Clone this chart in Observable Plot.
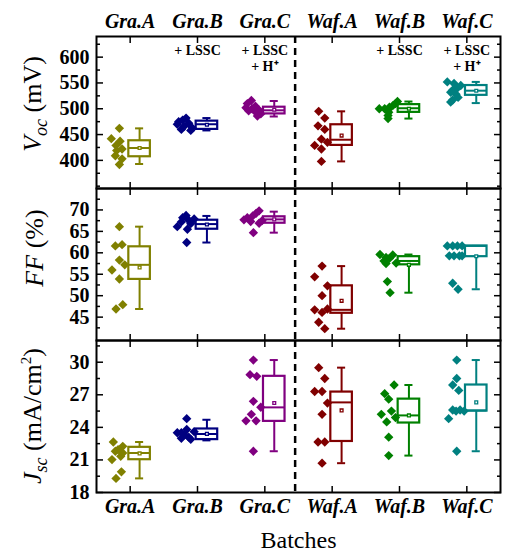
<!DOCTYPE html>
<html>
<head>
<meta charset="utf-8">
<script src="https://cdn.jsdelivr.net/npm/d3@7"></script>
<script src="https://cdn.jsdelivr.net/npm/@observablehq/plot@0.6"></script>
<style>
  body { margin: 0; background: #fff; }
  #chart { width: 507px; height: 557px; position: relative; font-family: 'Liberation Serif', serif; }
  #chart svg { display: block; overflow: visible; }
</style>
</head>
<body>
<div id="chart"></div>
<script>
// ---------- data ----------
const batches = ["Gra.A", "Gra.B", "Gra.C", "Waf.A", "Waf.B", "Waf.C"];
const batchColors = ["#808000", "#000080", "#800080", "#800000", "#008000", "#008080"];
const treatments = ["", "+ LSSC", "+ LSSC\n+ H\u207A", "", "+ LSSC", "+ LSSC\n+ H\u207A"];

// Voc (mV)
const vocPoints = [
  [462, 442, 437, 429, 422, 419, 409, 403, 392],
  [482, 478, 475, 472, 470, 466, 463, 460, 458],
  [516, 510, 505, 502, 500, 498, 496, 494, 490, 486],
  [495, 482, 467, 460, 441, 435, 429, 422, 398],
  [514, 510, 506, 503, 500, 500, 498, 493, 487, 481],
  [552, 549, 545, 540, 536, 532, 528, 522, 517, 513]
];
const vocJitter = [
  [-0.16, -0.28, -0.15, -0.21, -0.12, -0.2, -0.22, -0.12, -0.16],
  [-0.17, -0.22, -0.28, -0.13, -0.3, -0.2, -0.08, -0.24, -0.1],
  [-0.2, -0.26, -0.14, -0.28, -0.19, -0.09, -0.24, -0.14, -0.06, -0.11],
  [-0.2, -0.11, -0.21, -0.11, -0.16, -0.07, -0.26, -0.16, -0.16],
  [-0.03, -0.06, -0.1, -0.15, -0.3, -0.22, -0.17, -0.16, -0.17, -0.17],
  [-0.29, -0.19, -0.09, -0.14, -0.21, -0.24, -0.16, -0.13, -0.21, -0.24]
];
// [min, q1, median, q3, max, mean]
const vocStats = [
  [393, 407, 424, 438, 462, 424],
  [458, 460, 470, 476, 482, 469],
  [485, 490, 497, 503, 515, 498],
  [398, 429, 440, 469, 495, 448],
  [481, 493, 501, 508, 514, 500],
  [511, 526, 535, 545, 552, 535]
];
const vocTicks = [400, 450, 500, 550, 600];
const vocMinor = [350, 375, 425, 475, 525, 575, 625];

// FF (%)
const ffPoints = [
  [66.1, 61.9, 61.6, 58.3, 57.2, 56.0, 53.9, 47.9, 46.9],
  [68.7, 68.2, 67.9, 67.6, 67.2, 66.8, 66.1, 65.5, 62.4],
  [69.8, 69.2, 68.6, 68.2, 67.7, 67.5, 67.3, 66.9, 64.7],
  [56.9, 54.4, 52.3, 50.0, 46.9, 46.7, 46.1, 43.8, 42.3],
  [59.6, 59.5, 58.9, 58.7, 58.1, 57.6, 57.5, 53.3, 50.7],
  [61.6, 61.6, 61.6, 61.6, 59.3, 59.3, 59.3, 59.3, 52.9, 51.5]
];
const ffJitter = [
  [-0.16, -0.12, -0.22, -0.16, -0.08, -0.27, -0.16, -0.11, -0.21],
  [-0.17, -0.22, -0.05, -0.13, -0.24, -0.1, -0.3, -0.15, -0.16],
  [-0.085, -0.13, -0.18, -0.26, -0.31, -0.04, -0.21, -0.085, -0.17],
  [-0.15, -0.26, -0.07, -0.15, -0.07, -0.26, -0.15, -0.2, -0.11],
  [-0.29, -0.1, -0.2, -0.15, -0.23, -0.05, -0.2, -0.18, -0.14],
  [-0.29, -0.21, -0.14, -0.07, -0.26, -0.19, -0.11, -0.07, -0.21, -0.13]
];
const ffStats = [
  [46.9, 53.8, 57.2, 61.4, 66.1, 56.6],
  [62.4, 65.5, 66.7, 67.6, 68.6, 66.6],
  [64.7, 66.9, 67.8, 68.4, 69.6, 67.8],
  [42.3, 45.9, 46.7, 52.3, 56.9, 48.8],
  [50.7, 57.2, 58.1, 59.1, 59.6, 57.2],
  [51.5, 59.1, 61.6, 61.6, 61.6, 59.2]
];
const ffTicks = [45, 50, 55, 60, 65, 70];
const ffMinor = [42.5, 47.5, 52.5, 57.5, 62.5, 67.5, 72.5];

// Jsc (mA/cm2)
const jscPoints = [
  [22.65, 22.25, 21.94, 21.8, 21.64, 21.33, 21.03, 19.9, 19.3],
  [24.8, 23.8, 23.6, 23.5, 23.5, 23.3, 23.1, 23.0, 22.9],
  [30.2, 28.85, 28.7, 26.4, 25.85, 25.2, 24.6, 24.6, 21.8],
  [29.5, 28.5, 27.3, 27.3, 26.24, 25.2, 22.65, 22.65, 20.7],
  [27.9, 27.1, 26.6, 25.5, 25.2, 24.9, 24.5, 23.1, 21.4],
  [30.2, 28.5, 27.9, 27.4, 25.6, 25.5, 25.6, 25.5, 24.8, 21.8]
];
const jscJitter = [
  [-0.25, -0.11, -0.18, -0.22, -0.11, -0.14, -0.27, -0.13, -0.21],
  [-0.16, -0.16, -0.05, -0.3, -0.24, -0.19, -0.13, -0.24, -0.1],
  [-0.17, -0.22, -0.12, -0.17, -0.06, -0.2, -0.28, -0.13, -0.17],
  [-0.2, -0.11, -0.26, -0.15, -0.07, -0.15, -0.21, -0.11, -0.15],
  [-0.08, -0.22, -0.16, -0.12, -0.27, -0.06, -0.19, -0.16, -0.16],
  [-0.15, -0.15, -0.21, -0.12, -0.21, -0.16, -0.1, -0.04, -0.27, -0.15]
];
const jscStats = [
  [19.3, 21.02, 21.64, 22.16, 22.65, 21.6],
  [22.8, 22.87, 23.39, 23.85, 24.7, 23.4],
  [21.8, 24.55, 25.84, 28.7, 30.2, 26.24],
  [20.7, 22.7, 26.3, 27.25, 29.5, 25.56],
  [21.4, 24.4, 25.1, 26.6, 27.9, 25.1],
  [21.8, 25.5, 25.55, 27.9, 30.2, 26.3]
];
const jscTicks = [18, 21, 24, 27, 30];
const jscMinor = [19.5, 22.5, 25.5, 28.5, 31.5];

// ---------- drawing ----------
const FONT = "Liberation Serif";
const catPos = batches.map((_, i) => i + 1);
const boxShift = 0.14, boxHalf = 0.16, capHalf = 0.06, groupSplit = 3.45;

function panel({points, jitter, stats, domain, ticks, minor, height, marginTop, marginBottom, topLabels, bottomLabels, notes}) {
  const pts = points.flatMap((arr, i) => arr.map((v, j) => ({batch: batches[i], x: i + 1 + jitter[i][j], v})));
  const box = stats.map((s, i) => ({batch: batches[i], x: i + 1 + boxShift,
    min: s[0], q1: s[1], med: s[2], q3: s[3], max: s[4], mean: s[5]}));
  const marks = [
    Plot.ruleX(box, {x: "x", y1: "q3", y2: "max", stroke: "batch", strokeWidth: 2}),
    Plot.ruleX(box, {x: "x", y1: "min", y2: "q1", stroke: "batch", strokeWidth: 2}),
    Plot.ruleY(box, {y: "max", x1: d => d.x - capHalf, x2: d => d.x + capHalf, stroke: "batch", strokeWidth: 2}),
    Plot.ruleY(box, {y: "min", x1: d => d.x - capHalf, x2: d => d.x + capHalf, stroke: "batch", strokeWidth: 2}),
    Plot.rect(box, {x1: d => d.x - boxHalf, x2: d => d.x + boxHalf, y1: "q1", y2: "q3", fill: "white", stroke: "batch", strokeWidth: 2.2}),
    Plot.ruleY(box, {y: "med", x1: d => d.x - boxHalf, x2: d => d.x + boxHalf, stroke: "batch", strokeWidth: 2}),
    Plot.dot(box, {x: "x", y: "mean", symbol: "square", r: 1.6, stroke: "batch", strokeWidth: 1.3, fill: "white"}),
    Plot.dot(pts, {x: "x", y: "v", symbol: "diamond2", r: 4.2, fill: "batch", stroke: "none"}),
    Plot.ruleX([groupSplit], {stroke: "black", strokeWidth: 2.5, strokeDasharray: "7,5"}),
    // inward ticks, all four sides
    Plot.axisY({anchor: "left", ticks: minor, tickSize: -4, fill: "none", label: null, strokeWidth: 1.5}),
    Plot.axisY({anchor: "left", ticks: ticks, tickSize: -7, fill: "none", label: null, strokeWidth: 1.5}),
    Plot.axisY({anchor: "right", ticks: minor, tickSize: -4, fill: "none", label: null, strokeWidth: 1.5}),
    Plot.axisY({anchor: "right", ticks: ticks, tickSize: -7, fill: "none", label: null, strokeWidth: 1.5}),
    Plot.axisX({anchor: "top", ticks: catPos, tickSize: -6, fill: "none", label: null, strokeWidth: 1.5}),
    Plot.axisX({anchor: "bottom", ticks: catPos, tickSize: -6, fill: "none", label: null, strokeWidth: 1.5}),
    // tick labels
    Plot.axisY({anchor: "left", ticks: ticks, tickSize: 0, tickPadding: 7, label: null,
      fontSize: 20, fontWeight: "bold", fontFamily: FONT, fill: "black"}),
    Plot.frame({stroke: "black", strokeWidth: 2})
  ];
  if (topLabels) marks.push(Plot.axisX({anchor: "top", ticks: catPos, tickFormat: d => batches[d - 1],
    tickSize: 0, tickPadding: 9, label: null, fontSize: 20, fontWeight: "bold", fontStyle: "italic", fontFamily: FONT, fill: "black"}));
  if (bottomLabels) {
    marks.push(Plot.axisX({anchor: "bottom", ticks: catPos, tickFormat: d => batches[d - 1],
      tickSize: 0, tickPadding: 6, label: null, fontSize: 20, fontWeight: "bold", fontStyle: "italic", fontFamily: FONT, fill: "black"}));
    marks.push(Plot.text(["Batches"], {frameAnchor: "bottom", dy: 55, fontSize: 24, fontFamily: FONT, fill: "black"}));
  }
  if (notes) {
    const nd = treatments.map((t, i) => ({x: i + 1, t})).filter(d => d.t);
    marks.push(Plot.text(nd, {x: "x", text: "t", frameAnchor: "top", dy: 7, lineAnchor: "top",
      fontSize: 14, fontWeight: "bold", fontFamily: FONT, lineHeight: 1.15, fill: "black"}));
  }
  return Plot.plot({
    width: 507, height, marginLeft: 96, marginRight: 7, marginTop, marginBottom,
    style: {fontFamily: FONT, fontSize: "19px", color: "black", overflow: "visible", background: "transparent"},
    x: {domain: [0.5, 6.5], axis: null},
    y: {domain, axis: null},
    color: {domain: batches, range: batchColors},
    marks
  });
}

function yTitle(svg, cx, cy, parts) {
  const t = d3.select(svg).append("text")
    .attr("transform", `translate(${cx},${cy}) rotate(-90)`)
    .attr("text-anchor", "middle")
    .attr("font-family", FONT)
    .attr("font-size", 26)
    .attr("fill", "black");
  for (const p of parts) {
    const s = t.append("tspan").text(p.t);
    if (p.i) s.attr("font-style", "italic");
    if (p.size) s.attr("font-size", p.size);
    if (p.dy) s.attr("dy", p.dy);
  }
}

const root = document.getElementById("chart");

const p1 = panel({points: vocPoints, jitter: vocJitter, stats: vocStats, domain: [345.5, 640],
  ticks: vocTicks, minor: vocMinor, height: 188, marginTop: 36, marginBottom: 0, topLabels: true, notes: true});
yTitle(p1, 41, 104, [{t: "V", i: true}, {t: "oc", i: true, size: 18, dy: 6}, {t: " (mV)", dy: -6}]);
root.appendChild(p1);

const p2 = panel({points: ffPoints, jitter: ffJitter, stats: ffStats, domain: [39.55, 75],
  ticks: ffTicks, minor: ffMinor, height: 152, marginTop: 0, marginBottom: 0});
yTitle(p2, 43, 60, [{t: "FF", i: true}, {t: " (%)"}]);
root.appendChild(p2);

const p3 = panel({points: jscPoints, jitter: jscJitter, stats: jscStats, domain: [18, 32],
  ticks: jscTicks, minor: jscMinor, height: 217, marginTop: 0, marginBottom: 65, bottomLabels: true});
yTitle(p3, 41, 76, [{t: "J", i: true}, {t: "sc", i: true, size: 18, dy: 6}, {t: " (mA/cm", dy: -6},
  {t: "2", size: 15, dy: -10}, {t: ")", dy: 10}]);
root.appendChild(p3);
</script>
</body>
</html>
